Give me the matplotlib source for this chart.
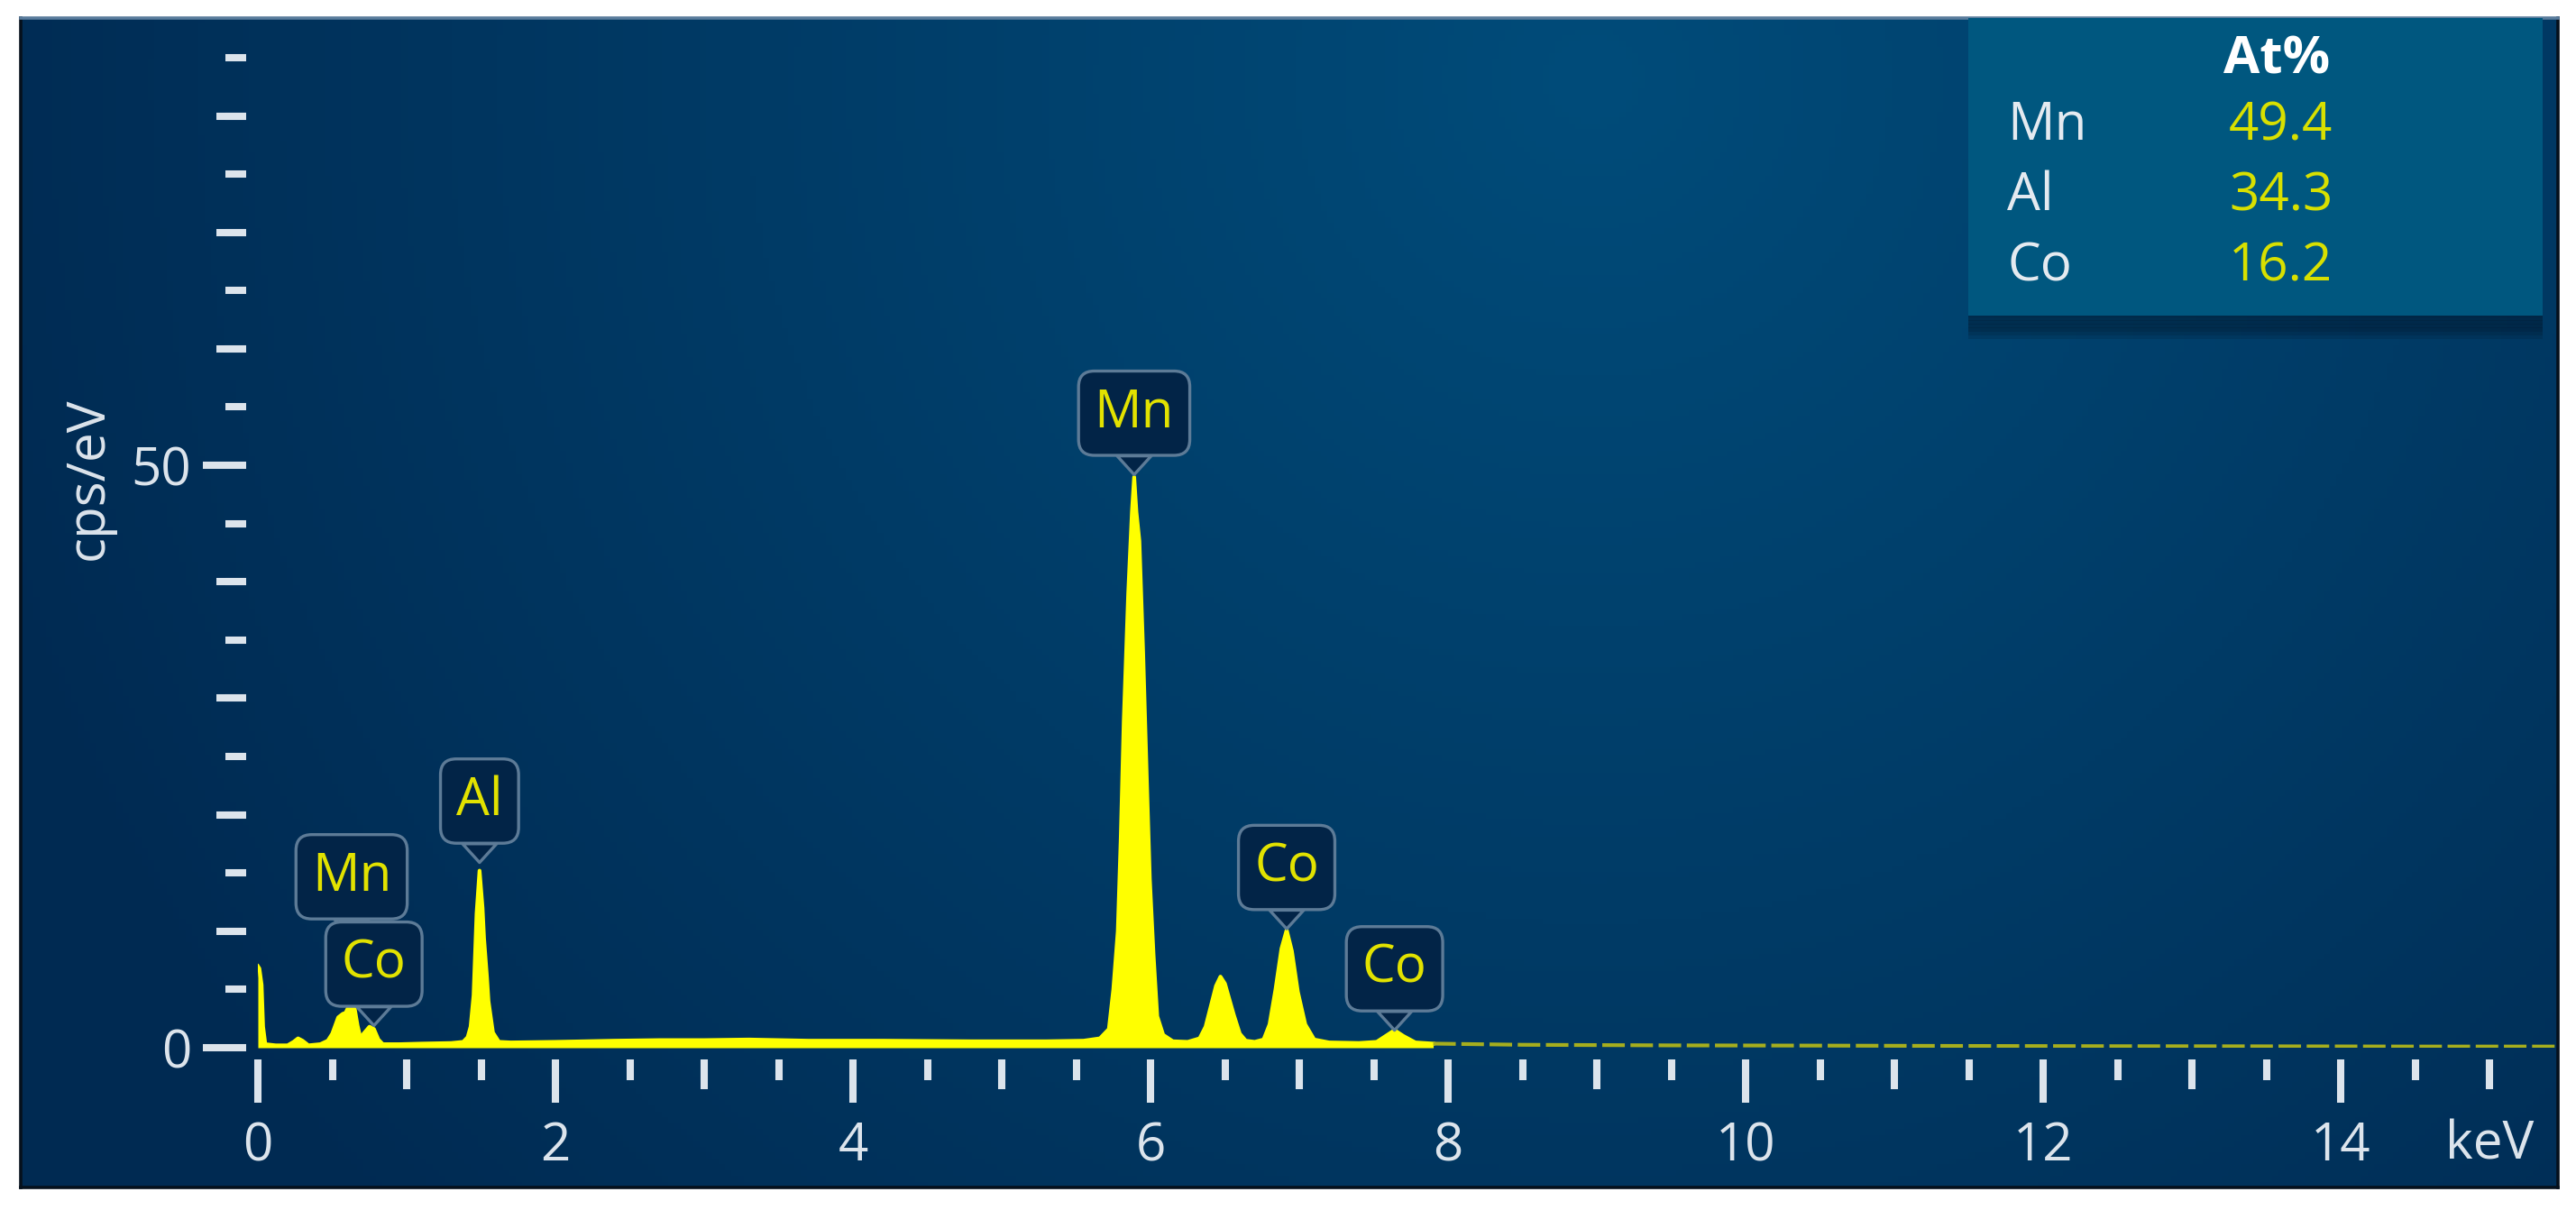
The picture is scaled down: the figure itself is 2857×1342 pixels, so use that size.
import numpy as np
import matplotlib
matplotlib.use('Agg')
from matplotlib import pyplot as plt
from matplotlib.patches import Rectangle
from matplotlib.ticker import MultipleLocator, FixedLocator, NullLocator

# EDS spectrum (keV, cps/eV)
energy_kev = [0.00, 0.01, 0.025, 0.035, 0.05, 0.12, 0.20, 0.24, 0.27, 0.30, 0.34, 0.42, 0.47,
              0.50, 0.54, 0.57, 0.59, 0.62, 0.65, 0.67, 0.69, 0.71, 0.75, 0.78, 0.81, 0.84, 0.95,
              1.10, 1.30, 1.38, 1.41, 1.43, 1.45, 1.46, 1.47, 1.49, 1.51, 1.52, 1.54, 1.55, 1.58,
              1.62, 1.70, 2.0, 2.4, 2.7, 3.0, 3.3, 3.7, 4.2, 4.8, 5.3, 5.55,
              5.66, 5.72, 5.75, 5.78, 5.80, 5.82, 5.85, 5.875, 5.89, 5.905, 5.925, 5.95, 5.975,
              5.995, 6.02, 6.045, 6.085, 6.15,
              6.25, 6.33, 6.37, 6.40, 6.44, 6.47, 6.50, 6.56, 6.60, 6.64, 6.70,
              6.76, 6.80, 6.84, 6.88, 6.915, 6.95, 6.99, 7.04, 7.10, 7.20,
              7.40, 7.52, 7.58, 7.64, 7.70, 7.78, 7.90,
              8.5, 9.5, 10.5, 11.5, 12.5, 13.5, 14.5, 15.5]
counts_cps = [7.0, 6.8, 5.4, 1.8, 0.3, 0.2, 0.2, 0.5, 0.8, 0.6, 0.2, 0.3, 0.6,
              1.2, 2.6, 2.9, 3.0, 3.8, 3.4, 1.9, 0.8, 1.2, 1.8, 1.6, 0.7, 0.3, 0.3,
              0.35, 0.4, 0.5, 0.9, 1.8, 4.5, 8.0, 11.5, 15.2, 12.0, 9.4, 6.0, 4.0, 1.3,
              0.5, 0.45, 0.5, 0.6, 0.65, 0.65, 0.7, 0.6, 0.6, 0.55, 0.55, 0.6,
              0.8, 1.6, 5.0, 10.0, 18.0, 28.0, 39.0, 46.0, 49.0, 46.0, 43.5, 34.0, 23.0,
              14.5, 8.0, 2.7, 1.1, 0.55,
              0.5, 0.8, 1.8, 3.3, 5.3, 6.1, 5.5, 2.8, 1.2, 0.6, 0.5,
              0.7, 2.0, 5.0, 8.5, 10.1, 8.3, 4.8, 2.0, 0.7, 0.45,
              0.4, 0.5, 1.0, 1.5, 1.0, 0.45, 0.35,
              0.25, 0.2, 0.18, 0.15, 0.13, 0.12, 0.1, 0.1]

# peak labels: element, energy, tip height
label_text = ['Mn', 'Co', 'Al', 'Mn', 'Co', 'Co']
label_energy = [0.63, 0.78, 1.49, 5.89, 6.915, 7.64]
label_tip = [9.4, 1.9, 15.9, 49.2, 10.2, 1.5]

# quantification table
quant_elements = ['Mn', 'Al', 'Co']
quant_at_pct = ['49.4', '34.3', '16.2']

plt.rcParams['font.family'] = ['Open Sans', 'DejaVu Sans']

TICK = '#dce4ec'
SPEC = '#ffff00'
BOX_FC = '#022447'
BOX_EC = '#5d7b97'
LBL = '#e2e200'
FS = 21

fig = plt.figure(figsize=(2857 / 200, 1342 / 200), dpi=200)
fig.patch.set_facecolor('white')

# dark panel with a soft radial gradient
bg = fig.add_axes([23 / 2857, 25 / 1342, 2814 / 2857, 1297 / 1342])
gx, gy = np.meshgrid(np.linspace(0, 1, 400), np.linspace(0, 1, 200))
d = np.sqrt(((gx - 0.62) * 2.17) ** 2 + (gy - 0.95) ** 2)
t = np.clip(d / 1.45, 0, 1)[..., None]
c_in = np.array([0, 76, 122]) / 255
c_out = np.array([0, 42, 82]) / 255
bg.imshow(c_in + (c_out - c_in) * t, extent=[0, 1, 0, 1], origin='lower', aspect='auto')
bg.set_xlim(0, 1)
bg.set_ylim(0, 1)
bg.set_xticks([])
bg.set_yticks([])
for s in bg.spines.values():
    s.set_color('#05101c')
    s.set_linewidth(1.3)
bg.spines['top'].set_color('#5a7c9c')

# spectrum axes
ax = fig.add_axes([286 / 2857, 180 / 1342, 2551 / 2857, 1142 / 1342])
ax.set_facecolor('none')
ax.set_xlim(0, 15.46)
ax.set_ylim(0, 88.4)

e = np.array(energy_kev)
c = np.array(counts_cps)
lo = e <= 8.0
ax.fill_between(e[lo], 0, c[lo], color=SPEC, lw=0, zorder=3)
ax.plot(e[lo], c[lo], color=SPEC, lw=1.5, zorder=3)
ax.plot(e[e >= 7.9], c[e >= 7.9], color='#a6ae1e', lw=1.5, ls=(0, (6, 1.5)), zorder=3)

for side in ['top', 'right']:
    ax.spines[side].set_visible(False)
for side in ['bottom', 'left']:
    ax.spines[side].set_position(('outward', 4.7))
    ax.spines[side].set_color('none')

ax.xaxis.set_major_locator(MultipleLocator(2))
ax.xaxis.set_minor_locator(MultipleLocator(0.5))
ax.yaxis.set_major_locator(FixedLocator([0, 50]))
ax.yaxis.set_minor_locator(FixedLocator(list(range(5, 90, 5))))
ax.tick_params(which='major', length=17.3, width=2.9, color=TICK, direction='out',
               labelsize=FS, labelcolor=TICK)
ax.tick_params(which='minor', length=8.3, width=2.9, color=TICK, direction='out')
ax.tick_params(axis='x', which='major', pad=7)
ax.tick_params(axis='y', which='major', pad=4.5)

# middle-length ticks at whole keV and every 10 cps/eV
secx = ax.secondary_xaxis(-13 / 1142)
secx.set_xticks(list(range(1, 16, 2)))
secx.xaxis.set_minor_locator(NullLocator())
secx.tick_params(length=12, width=2.9, color=TICK, direction='out', labelbottom=False)
secx.spines['bottom'].set_color('none')
secy = ax.secondary_yaxis(-13 / 2551)
secy.set_yticks([10, 20, 30, 40, 60, 70, 80])
secy.yaxis.set_minor_locator(NullLocator())
secy.tick_params(length=12, width=2.9, color=TICK, direction='out', labelleft=False)
secy.spines['left'].set_color('none')

ax.set_ylabel('cps/eV', fontsize=FS, color=TICK)
ax.yaxis.set_label_coords(-0.062, 0.553)
ax.text(15.0, -0.0946, 'keV', transform=ax.get_xaxis_transform(), ha='center', va='center',
        fontsize=FS, color=TICK)

# peak callouts
for name, x, h in zip(label_text, label_energy, label_tip):
    ax.annotate(name, xy=(x, h), xytext=(0, 14), textcoords='offset points',
                ha='center', va='bottom', fontsize=FS, color=LBL, zorder=5,
                bbox=dict(boxstyle='round,pad=0.3,rounding_size=0.3', fc=BOX_FC, ec=BOX_EC, lw=1.2),
                arrowprops=dict(arrowstyle='wedge,tail_width=0.65,shrink_factor=0.5',
                                fc=BOX_FC, ec=BOX_EC, lw=1.2, shrinkA=0, shrinkB=0))

# quantification table in the top right
for k in range(7):
    fig.patches.append(Rectangle((2183 / 2857, (1342 - 352 - 4 * k) / 1342), 637 / 2857, 0.01,
                                 transform=fig.transFigure, fc='#00101f', ec='none',
                                 alpha=0.14, zorder=2))
fig.patches.append(Rectangle((2183 / 2857, (1342 - 350) / 1342), 637 / 2857, 330 / 1342,
                             transform=fig.transFigure, fc='#00577f', ec='none', zorder=3))
fig.text(2466 / 2857, (1342 - 67) / 1342, 'At%', fontsize=FS, color='white',
         fontweight='bold', ha='left', va='center', zorder=4)
for i, (el, val) in enumerate(zip(quant_elements, quant_at_pct)):
    y = (1342 - (140 + 78 * i)) / 1342
    fig.text(2226 / 2857, y, el, fontsize=FS, color='#e4eaf0', ha='left', va='center', zorder=4)
    fig.text(2472 / 2857, y, val, fontsize=FS, color='#d8e000', ha='left', va='center', zorder=4)

fig.savefig('out.png', dpi=200, facecolor='white')
